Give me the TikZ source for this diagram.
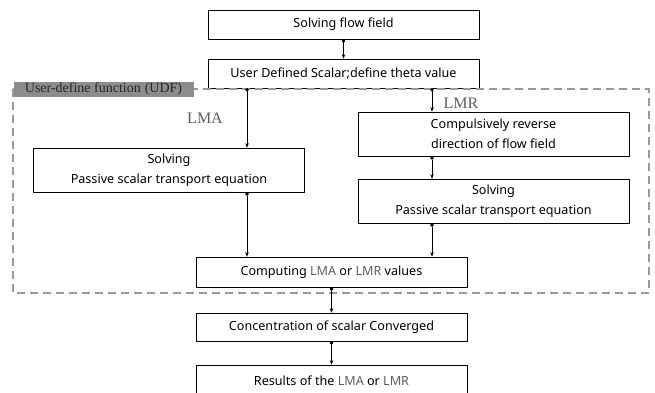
\documentclass[tikz,border=0pt]{standalone}
\usepackage{fontspec}
\setmainfont{Noto Sans}
\newfontfamily\labelserif{Liberation Serif}
\usetikzlibrary{arrows.meta,positioning,calc}

\definecolor{tagfill}{HTML}{8C8C8C}
\definecolor{keyword}{HTML}{5E5E5E}

\begin{document}
\begin{tikzpicture}[
    x=1pt, y=-1pt,
    stepbox/.style={draw, line width=0.6pt, minimum width=271pt, align=center, font=\fontsize{12.6}{19.5}\selectfont, inner sep=0pt},
    link/.style={{Circle[length=3.5pt]}-{Stealth[length=4.5pt,width=3.5pt]}, line width=0.6pt},
    branch/.style={font=\labelserif\fontsize{16}{16}\selectfont, text=keyword}
]
\useasboundingbox (0,0) rectangle (655,393);

% main column
\node[stepbox, minimum height=29pt] (flow) at (343.5,24.5) {Solving flow field};
\node[stepbox, minimum height=29pt] (scalar) at (343.5,73.5) {User Defined Scalar;define theta value};

% UDF region
\draw[gray!80, dashed, dash pattern=on 8pt off 5pt, line width=1.1pt] (13,89) rectangle (649,293);
\node[fill=tagfill, minimum width=180pt, minimum height=15pt, inner sep=0pt, text=black!85,
      font=\labelserif\fontsize{14}{15}\selectfont] (udf) at (103.5,89.5) {User-define function\;(UDF)};

\node[stepbox, minimum height=44pt] (solveL) at (169,170) {Solving\\Passive scalar transport equation};
\node[stepbox, minimum height=44pt] (reverse) at (493.5,134) {Compulsively reverse\\direction of flow field};
\node[stepbox, minimum height=44pt] (solveR) at (493.5,201) {Solving\\Passive scalar transport equation};
\node[stepbox, minimum height=30pt] (compute) at (331.5,272) {Computing \textcolor{keyword}{LMA} or \textcolor{keyword}{LMR} values};

\node[branch] (lma) at (205,118) {LMA};
\node[branch] (lmr) at (461,103) {LMR};

% after the UDF
\node[stepbox, minimum height=28pt] (converge) at (331.5,327) {Concentration of scalar Converged};
\node[stepbox, minimum height=32pt] (result) at (331.5,381) {Results of the \textcolor{keyword}{LMA} or \textcolor{keyword}{LMR}};

% taps on the scalar box
\coordinate (tapL) at (247,88);
\coordinate (tapR) at (432,88);

\draw[link] (flow) -- (scalar);
\draw[link] (tapL) -- (tapL |- solveL.north);
\draw[link] (tapR) -- (tapR |- reverse.north);
\draw[link] (tapL |- solveL.south) -- (tapL |- compute.north);
\draw[link] (tapR |- reverse.south) -- (tapR |- solveR.north);
\draw[link] (tapR |- solveR.south) -- (tapR |- compute.north);
\draw[link] (compute) -- (converge);
\draw[link] (converge) -- (result);
\end{tikzpicture}
\end{document}
